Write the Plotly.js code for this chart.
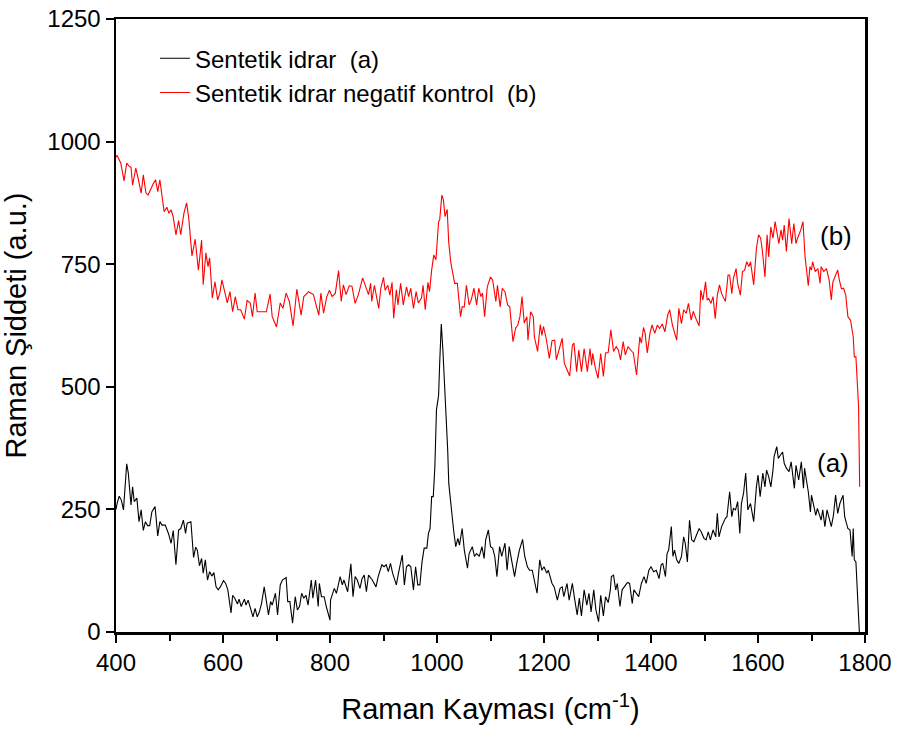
<!DOCTYPE html>
<html>
<head>
<meta charset="utf-8">
<script src="https://cdn.plot.ly/plotly-3.0.1.min.js"></script>
<style>html,body{margin:0;padding:0;background:#fff;}#chart{width:897px;height:735px;}</style>
</head>
<body>
<div id="chart"></div>
<script>
// Series (b): Sentetik idrar negatif kontrol
const xB = [400,402,405,409,415,420,425,428,431,437,442,447,451,456,460,465,470,474,478,482,490,495,499,503,507,512,517,521,527,532,536,542,548,554,560,563,568,572,575,580,585,590,594,598,604,608,613,618,623,628,633,640,645,651,655,660,664,672,681,688,692,700,707,712,718,724,731,738,746,751,760,769,779,783,788,794,799,804,810,816,821,825,830,836,841,847,853,861,866,872,876,878,883,891,895,900,903,908,912,916,919,924,927,932,937,943,947,951,956,961,965,971,974,978,983,986,990,994,998,1003,1005,1009,1012,1015,1019,1022,1026,1033,1038,1044,1047,1051,1055,1060,1064,1069,1074,1078,1082,1085,1089,1094,1100,1104,1110,1113,1118,1122,1127,1132,1136,1142,1147,1151,1155,1159,1163,1168,1170,1175,1180,1182,1188,1193,1196,1199,1204,1210,1215,1220,1223,1229,1234,1238,1248,1253,1256,1261,1265,1270,1275,1281,1286,1289,1291,1296,1301,1306,1311,1315,1320,1325,1330,1335,1339,1343,1348,1352,1357,1362,1367,1373,1379,1382,1386,1389,1393,1398,1402,1407,1412,1416,1421,1426,1431,1435,1440,1448,1452,1457,1461,1466,1470,1475,1479,1484,1490,1493,1497,1502,1505,1508,1512,1516,1520,1524,1528,1532,1539,1544,1547,1551,1554,1559,1562,1567,1571,1575,1579,1583,1586,1592,1597,1601,1605,1608,1613,1617,1620,1624,1628,1632,1635,1639,1643,1646,1649,1653,1658,1663,1667,1671,1674,1680,1684,1688,1694,1697,1700,1702,1707,1712,1716,1718,1723,1728,1733,1737,1740,1749,1752,1756,1760,1764,1768,1773,1778,1780,1783,1786,1787,1788,1790];
const yB = [968,972,965,956,920,956,949,948,911,946,922,895,932,895,891,905,915,922,898,922,857,866,854,861,846,810,839,810,854,875,844,767,801,738,799,708,773,745,763,681,714,677,691,718,691,671,694,653,684,657,657,638,676,671,643,691,653,653,653,689,643,622,671,660,691,674,624,699,646,684,694,688,646,691,650,684,697,684,691,737,674,708,688,706,705,670,688,722,708,688,711,674,707,660,701,723,697,707,687,713,640,698,667,711,667,704,684,701,660,694,671,681,707,657,713,694,738,769,759,837,840,891,881,847,862,793,752,711,711,643,663,663,707,667,677,701,667,701,684,691,643,704,724,718,674,707,663,701,694,667,663,592,620,626,643,684,630,643,595,653,643,602,572,627,605,623,599,558,594,595,555,582,599,548,522,585,589,531,575,531,578,531,578,544,568,538,517,568,521,569,570,616,572,582,575,555,592,565,582,575,569,524,602,589,621,609,569,609,626,609,626,619,628,612,646,657,626,595,660,629,657,650,670,636,654,639,624,697,677,714,677,680,670,684,639,687,708,690,674,728,728,690,721,741,711,687,735,738,755,745,755,708,782,810,803,779,724,810,765,826,803,837,813,792,820,799,830,776,843,792,833,792,803,820,837,765,706,745,738,755,735,741,711,745,735,741,718,677,714,738,718,700,701,687,643,636,602,561,561,514,480,459,296];

// Series (a): Sentetik idrar
const xA = [400,402,406,410,414,420,423,428,431,434,439,443,447,451,455,459,463,467,473,478,482,486,492,498,503,507,512,517,521,526,530,533,540,545,549,552,556,560,563,567,571,575,579,583,587,591,595,601,605,609,615,618,622,627,630,634,640,643,647,651,656,660,664,668,672,677,681,685,689,692,698,702,707,711,718,721,725,730,735,739,743,747,751,755,759,765,768,773,778,780,784,789,793,800,801,808,812,819,823,826,833,839,843,847,851,856,860,864,868,872,879,886,890,897,901,905,909,913,917,924,928,935,939,943,947,951,956,960,964,968,972,976,981,984,987,990,993,996,999,1003,1005,1008,1011,1014,1018,1020,1022,1025,1028,1031,1035,1039,1042,1047,1051,1054,1057,1060,1066,1070,1074,1079,1084,1088,1091,1096,1100,1104,1108,1112,1117,1121,1127,1131,1135,1140,1145,1149,1154,1160,1164,1169,1173,1178,1187,1192,1196,1200,1205,1208,1215,1219,1225,1230,1234,1237,1243,1247,1253,1257,1262,1266,1270,1275,1280,1284,1288,1293,1297,1302,1306,1311,1315,1320,1324,1326,1330,1334,1337,1342,1346,1350,1356,1360,1365,1368,1372,1377,1382,1387,1391,1396,1400,1405,1410,1415,1419,1422,1427,1430,1433,1438,1441,1444,1448,1452,1457,1461,1464,1468,1472,1476,1480,1486,1490,1494,1499,1503,1507,1511,1516,1521,1524,1527,1532,1539,1542,1547,1551,1554,1558,1562,1566,1569,1573,1577,1581,1586,1592,1597,1600,1604,1609,1613,1616,1620,1624,1628,1630,1635,1638,1642,1646,1649,1653,1658,1662,1668,1671,1676,1681,1685,1687,1694,1698,1700,1704,1708,1711,1718,1721,1725,1729,1737,1741,1745,1749,1753,1759,1762,1768,1772,1776,1778,1780,1783,1788,1790];
const yA = [250,262,277,269,249,343,324,259,296,266,273,225,249,207,225,217,217,245,256,196,225,218,218,201,181,207,137,208,211,228,201,222,225,152,173,167,135,150,120,147,106,123,114,121,92,86,92,105,99,86,39,75,69,57,67,52,67,55,65,52,31,48,31,41,58,92,62,35,62,55,79,35,96,106,111,62,62,18,72,45,52,79,69,75,55,106,69,106,52,99,72,72,52,24,65,89,79,113,96,106,82,139,72,113,106,89,109,116,82,116,106,92,113,137,133,137,123,140,120,96,120,157,96,133,137,133,86,133,96,96,143,171,171,201,211,276,276,337,453,483,548,628,575,507,436,371,303,269,242,208,174,191,177,211,167,150,130,160,174,154,160,154,174,150,188,208,174,171,154,113,174,154,181,126,174,143,113,140,167,189,154,133,126,126,79,147,126,133,120,126,99,92,65,89,92,72,99,65,99,69,35,69,33,86,55,79,41,86,45,21,75,33,72,60,86,113,116,86,99,52,86,92,101,99,58,86,79,72,99,113,99,126,133,123,126,109,137,140,113,160,167,215,154,167,147,140,154,194,181,143,228,188,184,201,211,204,191,188,204,188,208,194,242,194,215,232,235,286,235,252,249,266,201,262,283,324,249,262,225,296,320,276,324,296,330,317,296,330,357,378,354,361,367,344,334,327,347,293,340,310,347,293,334,286,245,279,255,238,252,228,249,215,249,215,238,279,242,262,279,235,211,208,154,211,147,143,31,-12];

const xTickVals = [400,600,800,1000,1200,1400,1600,1800];
const yTickVals = [0,250,500,750,1000,1250];
const seriesNames = ["Sentetik idrar  (a)", "Sentetik idrar negatif kontrol  (b)"];
const labels = ["(a)", "(b)"];
const labelX = [1741, 1745];
const labelY = [345, 808];

const FONT = "Liberation Sans, Arial, sans-serif";
const NB = "\u00A0";

const traces = [
  {x: xA, y: yA, type: 'scatter', mode: 'lines', name: seriesNames[0],
   line: {color: '#000000', width: 1.1}},
  {x: xB, y: yB, type: 'scatter', mode: 'lines', name: seriesNames[1],
   line: {color: '#ff0000', width: 1.1}}
];

const layout = {
  width: 897, height: 735,
  margin: {l: 116, r: 32, t: 19, b: 103},
  paper_bgcolor: '#ffffff', plot_bgcolor: '#ffffff',
  font: {family: FONT, color: '#000000', size: 22},
  showlegend: true,
  legend: {x: 0.052, y: 0.972, xanchor: 'left', yanchor: 'top',
           bgcolor: 'rgba(0,0,0,0)', borderwidth: 0,
           font: {family: FONT, size: 24, color: '#000'},
           itemwidth: 30, tracegroupgap: 0},
  xaxis: {
    range: [400, 1800], showgrid: false, zeroline: false,
    showline: true, linecolor: '#000', linewidth: 2.5, mirror: true,
    ticks: 'outside', ticklen: 8, tickwidth: 2, tickcolor: '#000',
    tickvals: xTickVals, ticktext: xTickVals.map(String),
    tickfont: {family: FONT, size: 24, color: '#000'},
    minor: {dtick: 100, tick0: 400, ticks: 'outside', ticklen: 6, tickwidth: 2, tickcolor: '#000', showgrid: false},
    title: {text: 'Raman Kayması (cm<sup>-1</sup>)', font: {family: FONT, size: 29, color: '#000'}, standoff: 24}
  },
  yaxis: {
    range: [0, 1250], showgrid: false, zeroline: false,
    showline: true, linecolor: '#000', linewidth: 2.5, mirror: true,
    ticks: 'outside', ticklen: 8, tickwidth: 2, tickcolor: '#000',
    tickvals: yTickVals, ticktext: yTickVals.map(String),
    tickfont: {family: FONT, size: 24, color: '#000'},
    title: {text: NB.repeat(9) + 'Raman Şiddeti (a.u.)', font: {family: FONT, size: 29, color: '#000'}, standoff: 12}
  },
  annotations: labels.map((t, i) => ({
    x: labelX[i], y: labelY[i], xref: 'x', yref: 'y', text: t, showarrow: false,
    font: {family: FONT, size: 26, color: '#000'}
  }))
};

Plotly.newPlot('chart', traces, layout, {displayModeBar: false, staticPlot: true});
</script>
</body>
</html>
